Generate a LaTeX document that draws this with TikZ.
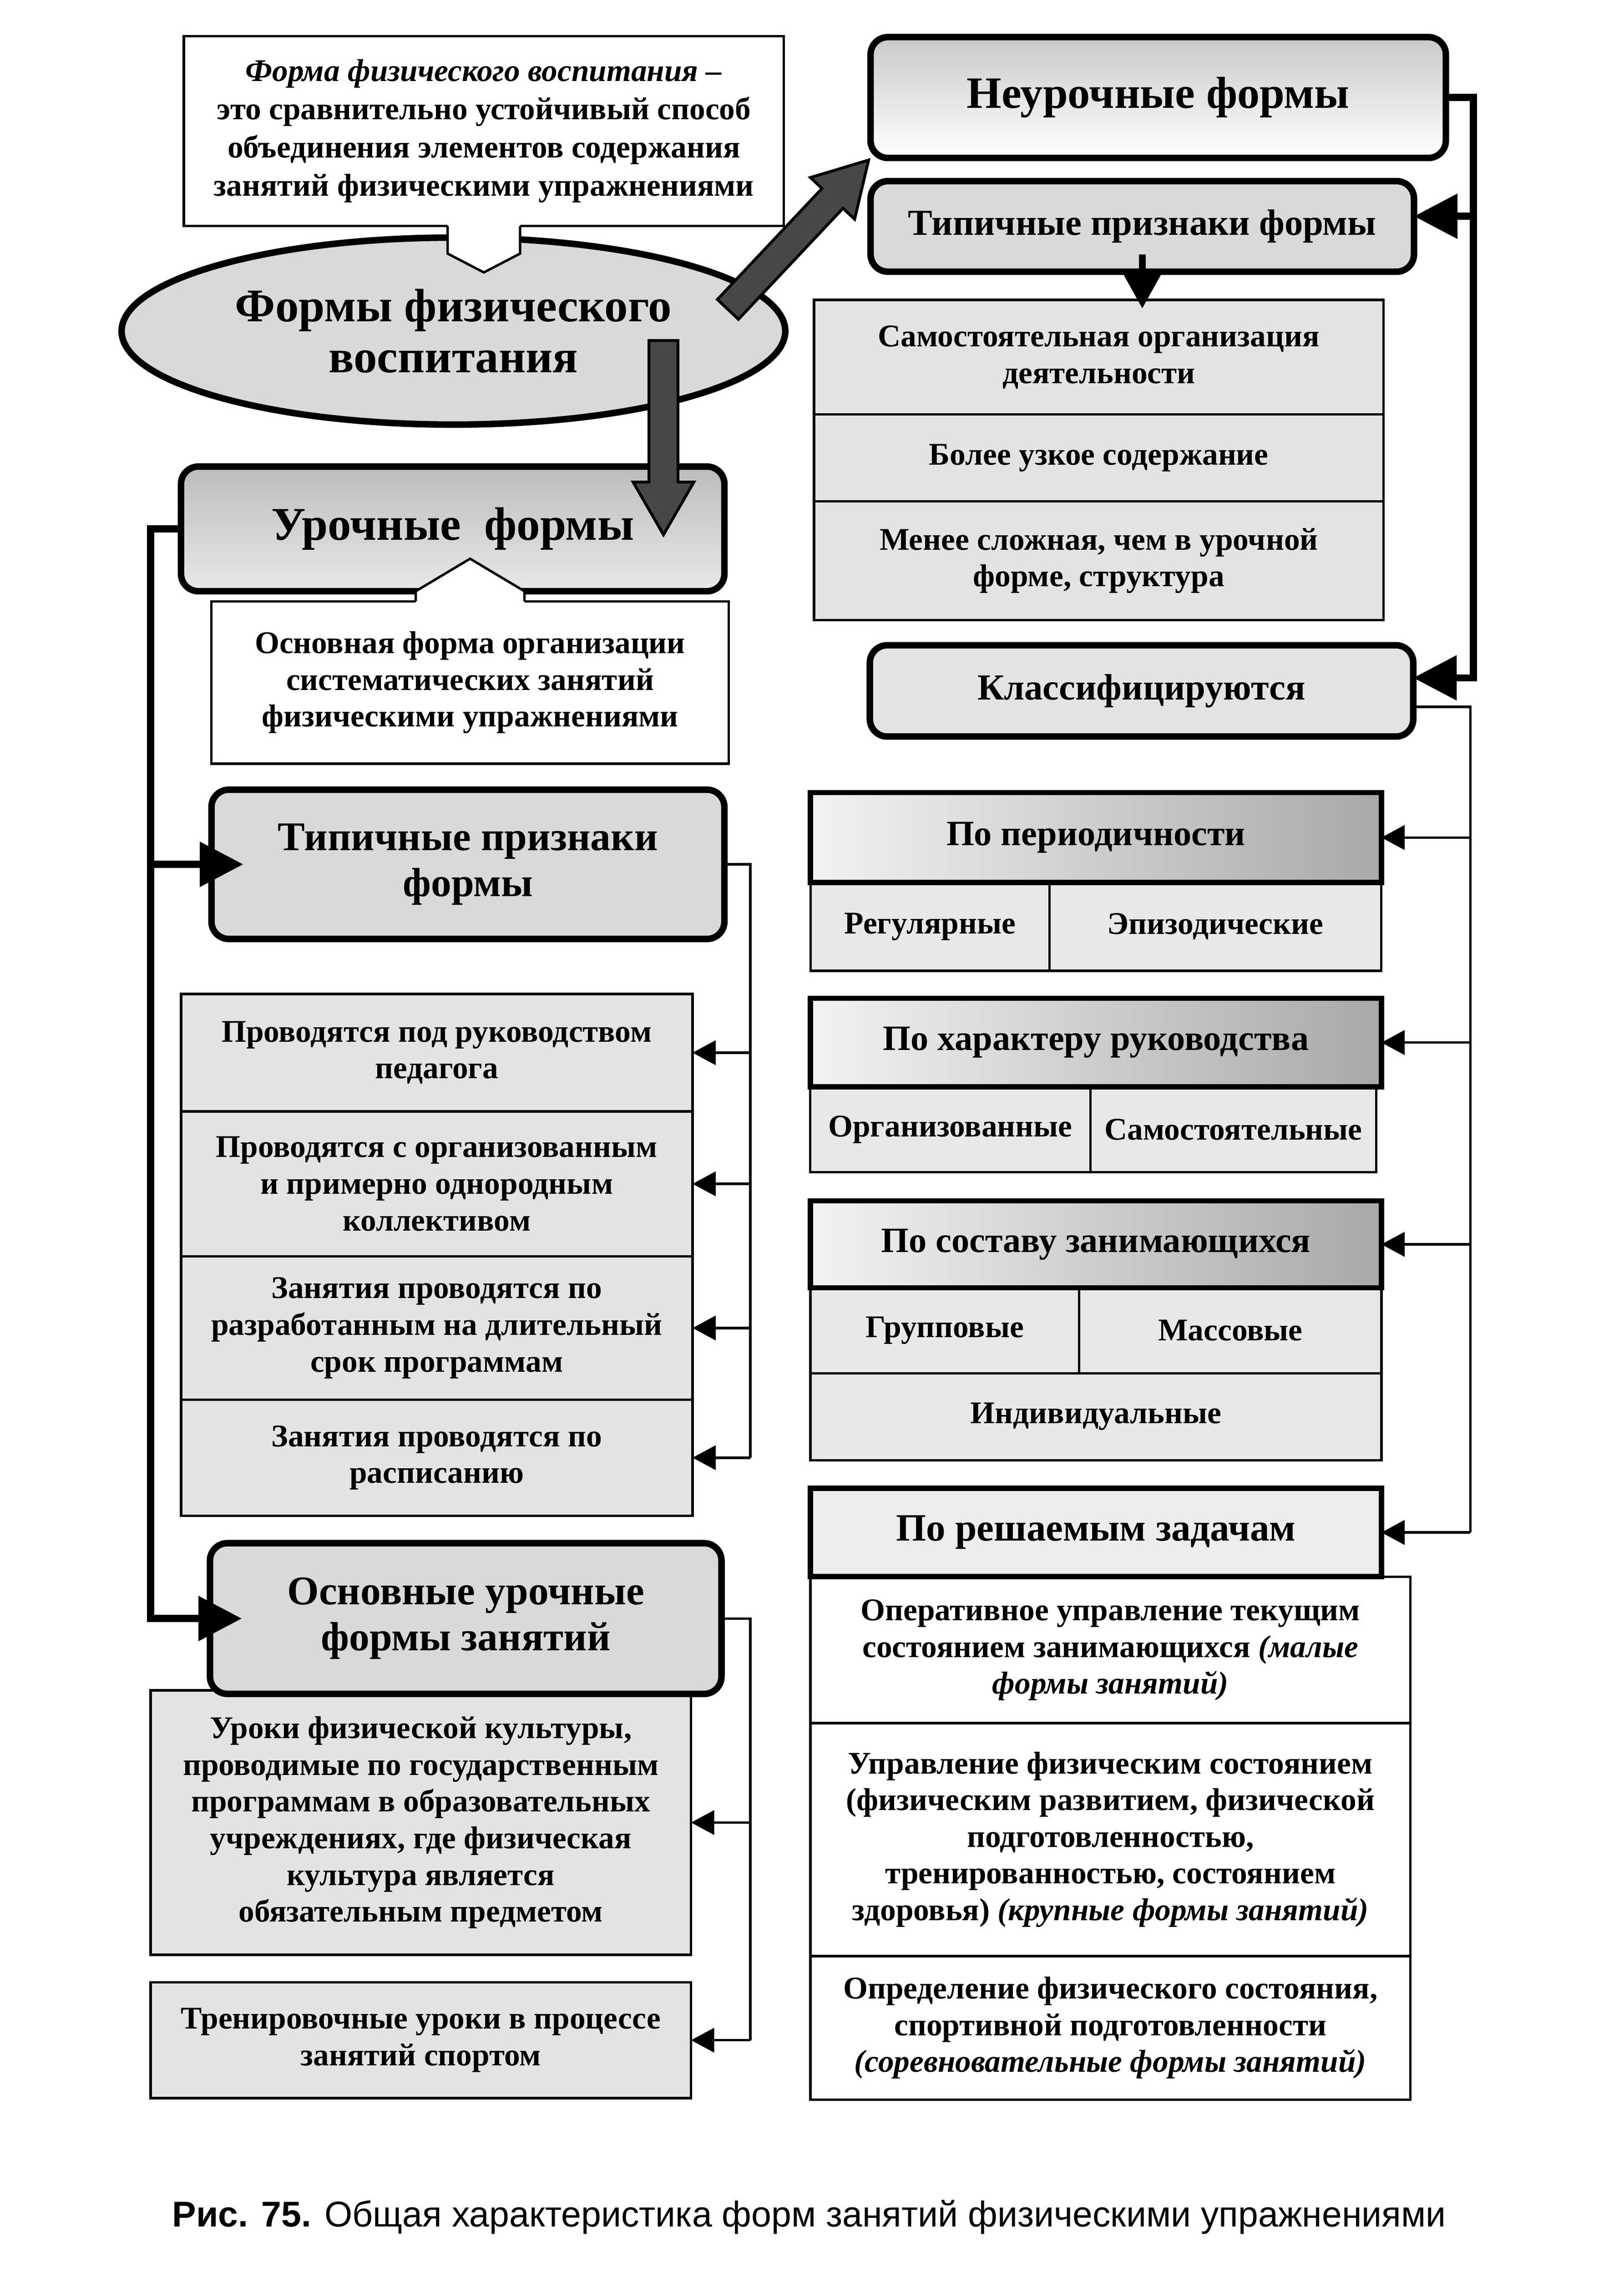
\documentclass[tikz,border=0pt]{standalone}
\usepackage{fontspec}
\setmainfont{Liberation Serif}
\setsansfont{Liberation Sans}
\usetikzlibrary{shapes.geometric,shapes.arrows,arrows.meta,calc}

\tikzset{
  box/.style={draw, line width=1.2pt, inner sep=0pt, outer sep=0pt, align=center,
    font=\bfseries\fontsize{15.5}{18}\selectfont},
  cell/.style={box, fill=gray!22},
  rbox/.style={box, rounded corners=0.3cm, line width=3.2pt, fill=gray!30},
  grphead/.style={box, line width=2.6pt, left color=gray!10, right color=gray!68,
    font=\bfseries\fontsize{17.5}{20}\selectfont},
  lnk/.style={line width=1.2pt},
  lnkarrow/.style={-{Triangle[length=0.4cm,width=0.42cm]}},
  spine/.style={line width=3.5pt},
  bigtip/.style={-{Triangle[length=0.75cm,width=0.75cm]}},
  fat/.style={single arrow, draw, line width=1.4pt, fill=black!72, inner sep=0.225cm,
    single arrow head extend=0.275cm, single arrow tip angle=60, anchor=tip}
}

\begin{document}
\begin{tikzpicture}[x=0.025cm, y=-0.025cm]
\useasboundingbox (0,0) rectangle (1121,1568);

% left column
\node[box, fill=white, minimum width=10.35cm, minimum height=3.275cm,
  font=\bfseries\fontsize{15.5}{18.8}\selectfont] (DEF) at (334,90.5)
  {\textit{Форма физического воспитания –}\\это сравнительно устойчивый способ\\объединения элементов содержания\\занятий физическими упражнениями};
\node[ellipse, draw, line width=3.2pt, fill=gray!30, inner sep=0pt, minimum width=11.45cm,
  minimum height=3.225cm, align=center, font=\bfseries\fontsize{23}{25}\selectfont] (MAIN) at (313,228.5)
  {Формы физического\\воспитания};
\fill[white] ($(DEF.south)+(-25,-2)$) -- ++(0,21) -- ++(25,13) -- ++(25,-13) -- ++(0,-21) -- cycle;
\draw[line width=1.2pt] ($(DEF.south)+(-25,0)$) -- ++(0,19) -- ++(25,13) -- ++(25,-13) -- ++(0,-19);

\node[rbox, top color=gray!52, bottom color=gray!18, minimum width=9.375cm, minimum height=2.15cm,
  font=\bfseries\fontsize{23}{25}\selectfont] (UF) at (312.5,365) {Урочные\ \ формы};
\node[box, fill=white, minimum width=8.925cm, minimum height=2.8cm] (UFdef) at (324.5,471)
  {Основная форма организации\\систематических занятий\\физическими упражнениями};
\fill[white] ($(UFdef.north)+(-37.5,2)$) -- ++(0,-9) -- ++(37.5,-22.4) -- ++(37.5,22.4) -- ++(0,9) -- cycle;
\draw[line width=1.2pt] ($(UFdef.north)+(-37.5,0)$) -- ++(0,-7) -- ++(37.5,-22.4) -- ++(37.5,22.4) -- ++(0,7);

\node[rbox, minimum width=8.85cm, minimum height=2.575cm,
  font=\bfseries\fontsize{20}{22.5}\selectfont] (UFtyp) at (323,596.5) {Типичные признаки\\формы};
\node[cell, minimum width=8.825cm, minimum height=2.025cm] (UF1) at (301.5,726.5)
  {Проводятся под руководством\\педагога};
\node[cell, minimum width=8.825cm, minimum height=2.5cm] (UF2) at (301.5,817)
  {Проводятся с организованным\\и примерно однородным\\коллективом};
\node[cell, minimum width=8.825cm, minimum height=2.475cm] (UF3) at (301.5,916.5)
  {Занятия проводятся по\\разработанным на длительный\\срок программам};
\node[cell, minimum width=8.825cm, minimum height=2cm] (UF4) at (301.5,1006)
  {Занятия проводятся по\\расписанию};

\node[cell, minimum width=9.325cm, minimum height=4.56cm] (UFles) at (290.5,1257.8)
  {Уроки физической культуры,\\проводимые по государственным\\программам в образовательных\\учреждениях, где физическая\\культура является\\обязательным предметом};
\node[cell, minimum width=9.325cm, minimum height=2cm] (UFtr) at (290.5,1408)
  {Тренировочные уроки в процессе\\занятий спортом};
\node[rbox, minimum width=8.825cm, minimum height=2.6cm,
  font=\bfseries\fontsize{20}{22.5}\selectfont] (UFmain) at (321.5,1117) {Основные урочные\\формы занятий};

% right column
\node[rbox, top color=gray!42, bottom color=white, minimum width=9.925cm, minimum height=2.085cm,
  font=\bfseries\fontsize{22}{24}\selectfont] (NF) at (799.5,67.3) {Неурочные формы};
\node[rbox, minimum width=9.375cm, minimum height=1.5625cm,
  font=\bfseries\fontsize{18}{20}\selectfont] (NFtyp) at (788.5,156.25) {Типичные признаки формы};
\node[cell, minimum width=9.825cm, minimum height=1.975cm] (NF1) at (758.5,246.5)
  {Самостоятельная организация\\деятельности};
\node[cell, minimum width=9.825cm, minimum height=1.5cm] (NF2) at (758.5,316) {Более узкое содержание};
\node[cell, minimum width=9.825cm, minimum height=2.05cm] (NF3) at (758.5,387)
  {Менее сложная, чем в урочной\\форме, структура};
\node[rbox, fill=gray!22, minimum width=9.375cm, minimum height=1.575cm,
  font=\bfseries\fontsize{18}{20}\selectfont] (NFcl) at (788,476.8) {Классифицируются};

\node[cell, fill=gray!18, minimum width=4.125cm, minimum height=1.525cm] (P1a) at (642,639.5) {Регулярные};
\node[cell, fill=gray!18, minimum width=5.725cm, minimum height=1.525cm] (P1b) at (839,639.5) {Эпизодические};
\node[grphead, minimum width=9.85cm, minimum height=1.55cm] (P1) at (756.5,578) {По периодичности};

\node[cell, fill=gray!18, minimum width=4.835cm, minimum height=1.475cm] (P2a) at (656,779.5) {Организованные};
\node[cell, fill=gray!18, minimum width=4.93cm, minimum height=1.475cm] (P2b) at (851.4,779.5) {Самостоятельные};
\node[grphead, minimum width=9.85cm, minimum height=1.525cm] (P2) at (756.5,719.5) {По характеру руководства};

\node[cell, fill=gray!18, minimum width=4.64cm, minimum height=1.475cm] (P3a) at (652.2,918.3) {Групповые};
\node[cell, fill=gray!18, minimum width=5.215cm, minimum height=1.475cm] (P3b) at (849.3,918.3) {Массовые};
\node[cell, fill=gray!18, minimum width=9.85cm, minimum height=1.5cm] (P3c) at (756.5,977.7) {Индивидуальные};
\node[grphead, minimum width=9.85cm, minimum height=1.5cm] (P3) at (756.5,858.75) {По составу занимающихся};

\node[box, fill=white, minimum width=10.35cm, minimum height=2.525cm] (T1) at (766.5,1138.75)
  {Оперативное управление текущим\\состоянием занимающихся \textit{(малые}\\\textit{формы занятий)}};
\node[box, fill=white, minimum width=10.35cm, minimum height=4.0175cm] (T2) at (766.5,1269.5)
  {Управление физическим состоянием\\(физическим развитием, физической\\подготовленностью,\\тренированностью, состоянием\\здоровья) \textit{(крупные формы занятий)}};
\node[box, fill=white, minimum width=10.35cm, minimum height=2.475cm] (T3) at (766.5,1399.5)
  {Определение физического состояния,\\спортивной подготовленности\\\textit{(соревновательные формы занятий)}};
\node[box, line width=2.6pt, fill=gray!14, minimum width=9.85cm, minimum height=1.525cm,
  font=\bfseries\fontsize{19}{21}\selectfont] (P4) at (756.5,1057.6) {По решаемым задачам};

\node[font=\sffamily\fontsize{17.6}{20}\selectfont] (CAP) at (558.5,1530)
  {\textbf{Рис. 75.} Общая характеристика форм занятий физическими упражнениями};

% big arrows out of the ellipse
\coordinate (UFin) at (458,371);
\node[fat, rotate=46.7, minimum height=3.54cm] (ARnf) at (NF.south west) {};
\node[fat, rotate=-90, minimum height=3.35cm] (ARuf) at (UFin) {};

% thick spines
\coordinate (SL) at (104,365);
\draw[spine, bigtip, shorten >=-0.55cm] (UF.west) -- (SL) -- (SL |- UFmain.west) -- (UFmain.west);
\draw[spine, bigtip, shorten >=-0.55cm] (SL |- UFtyp.west) -- (UFtyp.west);

\coordinate (SR) at (1017,67.3);
\coordinate (NFtypin) at ($(NFtyp.east)+(0,-7)$);
\coordinate (NFclin) at ($(NFcl.east)+(0,-9)$);
\coordinate (NFclout) at ($(NFcl.east)+(0,11)$);
\draw[spine, bigtip] (NF.east) -- (SR) -- (SR |- NFclin) -- (NFclin);
\draw[spine, bigtip] (SR |- NFtypin) -- (NFtypin);

\coordinate (NFdn) at ($(NFtyp.south)+(0,-12)$);
\draw[line width=3.5pt, -{Triangle[length=0.6cm,width=0.625cm]}, shorten >=-0.15cm] (NFdn) -- (NFdn |- NF1.north);

% thin brackets
\coordinate (KL) at (518,0);
\draw[lnk] (UFtyp.east) -- (UFtyp.east -| KL) -- (KL |- UF4.east);
\foreach \r in {UF1,UF2,UF3,UF4}
  \draw[lnk, lnkarrow] (KL |- \r.east) -- (\r.east);
\draw[lnk] (UFmain.east) -- (UFmain.east -| KL) -- (KL |- UFtr.east);
\foreach \r in {UFles,UFtr}
  \draw[lnk, lnkarrow] (KL |- \r.east) -- (\r.east);

\coordinate (KR) at (1015,0);
\draw[lnk] (NFclout) -- (NFclout -| KR) -- (KR |- P4.east);
\foreach \r in {P1,P2,P3,P4}
  \draw[lnk, lnkarrow] (KR |- \r.east) -- (\r.east);

\end{tikzpicture}
\end{document}
